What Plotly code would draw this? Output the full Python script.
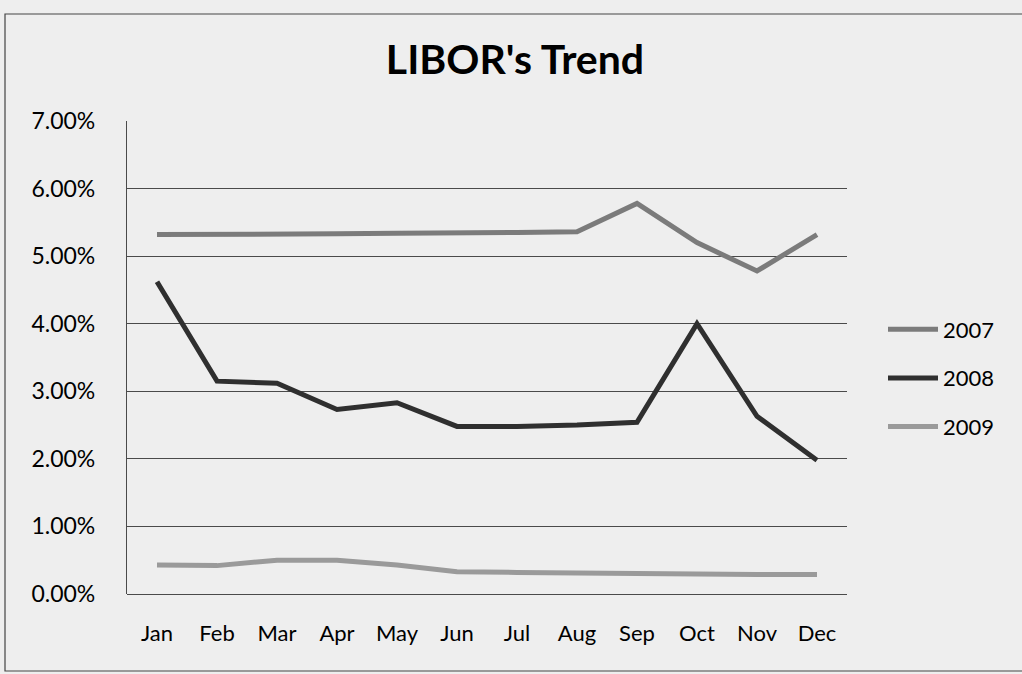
import plotly.graph_objects as go

months = ["Jan", "Feb", "Mar", "Apr", "May", "Jun", "Jul", "Aug", "Sep", "Oct", "Nov", "Dec"]
libor_2007 = [5.32, 5.32, 5.33, 5.33, 5.34, 5.34, 5.35, 5.36, 5.78, 5.20, 4.78, 5.32]
libor_2008 = [4.62, 3.15, 3.12, 2.73, 2.83, 2.48, 2.48, 2.50, 2.54, 4.00, 2.63, 1.98]
libor_2009 = [0.43, 0.42, 0.50, 0.50, 0.43, 0.33, 0.32, 0.31, 0.30, 0.30, 0.29, 0.29]
y_ticks = [0, 1, 2, 3, 4, 5, 6, 7]

series = [
    ("2007", libor_2007, "#7b7b7b"),
    ("2008", libor_2008, "#2f2f2f"),
    ("2009", libor_2009, "#9a9a9a"),
]

FONT = "Lato"
BG = "#eeeeee"

fig = go.Figure()
for i, (name, vals, color) in enumerate(series):
    fig.add_trace(go.Scatter(
        x=months,
        y=[v / 100 for v in vals],
        name=name,
        mode="lines",
        line=dict(color=color, width=5),
        legendgroup=f"g{i}",
    ))

fig.update_layout(
    width=1022,
    height=674,
    margin=dict(l=127, r=175, t=121, b=80),
    paper_bgcolor=BG,
    plot_bgcolor=BG,
    font=dict(family=FONT, color="#111111", size=22),
    title=dict(
        text="<b>LIBOR's Trend</b>",
        x=(515 - 127) / 720, xanchor="center", xref="paper",
        y=1 - 60 / 674, yanchor="middle",
        font=dict(family=FONT, size=41, color="#000000"),
    ),
    showlegend=True,
    legend=dict(
        x=1.05, xanchor="left",
        y=(594 - 378) / 473, yanchor="middle",
        font=dict(family=FONT, size=22, color="#000000"),
        bgcolor="rgba(0,0,0,0)",
        tracegroupgap=17,
        itemwidth=50,
    ),
    shapes=[
        dict(type="rect", xref="paper", yref="paper",
             x0=(5 - 127) / 720, x1=(1040 - 127) / 720,
             y0=(594 - 671) / 473, y1=(594 - 14) / 473,
             line=dict(color="#444444", width=1.2), layer="below"),
    ],
)

fig.update_xaxes(
    type="category",
    range=[-0.5, len(months) - 0.5],
    showgrid=False,
    showline=False,
    ticks="",
    ticklabelstandoff=24,
    tickfont=dict(family=FONT, size=22, color="#000000"),
)
fig.update_yaxes(
    range=[0, 0.07],
    tickvals=[t / 100 for t in y_ticks],
    tickformat=".2%",
    showgrid=True,
    gridcolor="#4a4a4a",
    gridwidth=1.2,
    showline=True,
    linecolor="#4a4a4a",
    linewidth=1.2,
    zeroline=True,
    zerolinecolor="#4a4a4a",
    zerolinewidth=1.2,
    ticks="",
    ticklabelstandoff=26,
    tickfont=dict(family=FONT, size=23, color="#000000"),
)

fig.write_html("out.html")
